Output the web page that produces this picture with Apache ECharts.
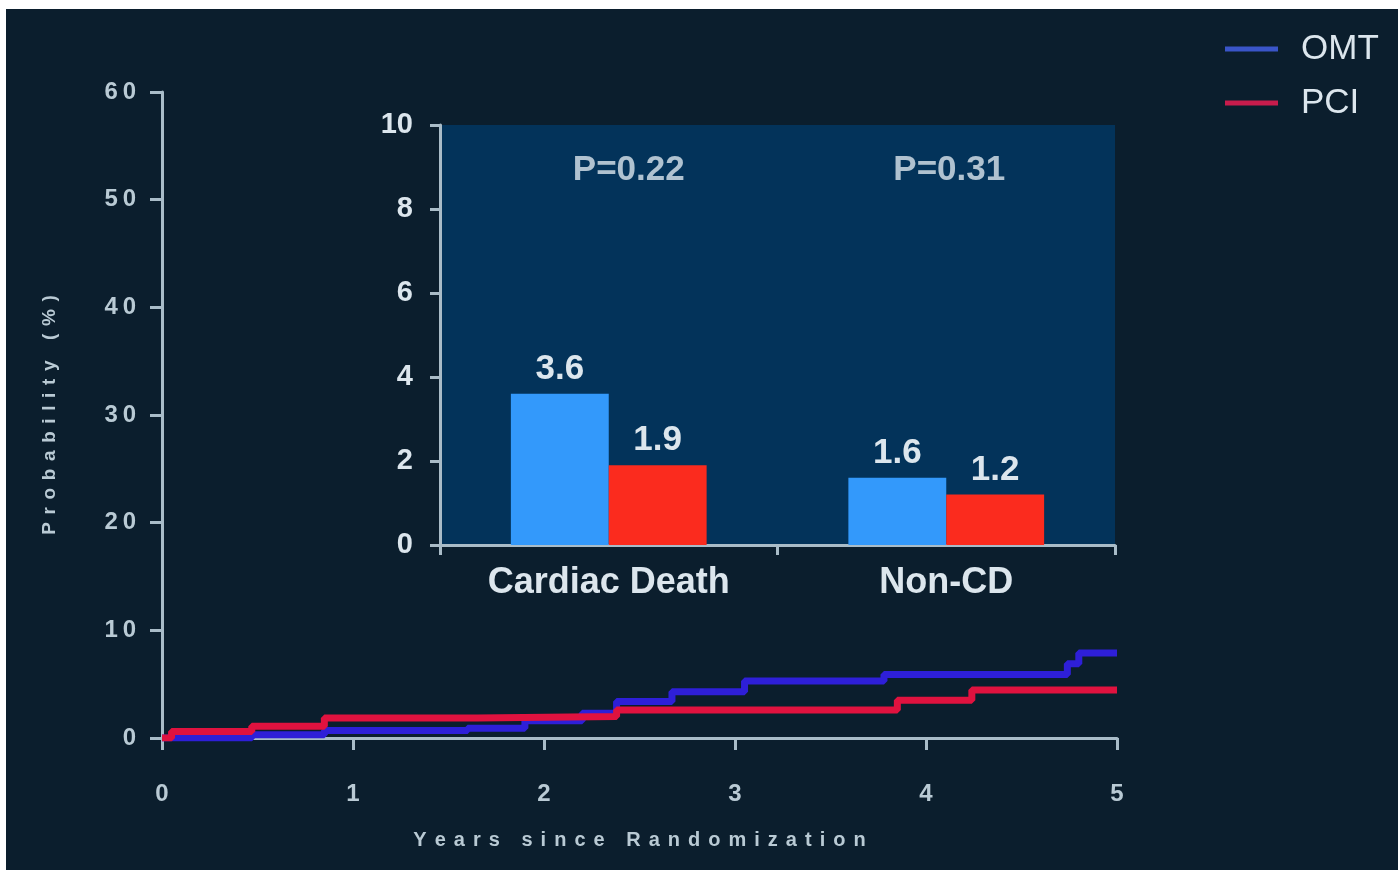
<!DOCTYPE html>
<html>
<head>
<meta charset="utf-8">
<script src="https://cdn.jsdelivr.net/npm/echarts@6/dist/echarts.min.js"></script>
<style>
html,body{margin:0;padding:0;background:#ffffff;width:1398px;height:870px;overflow:hidden;}
#c{position:absolute;left:6px;top:9px;width:1392px;height:861px;background:#0b1e2d;}
</style>
</head>
<body>
<div id="c"></div>
<script>
// Kaplan-Meier curves (years, cumulative probability %)
const omtTime = [0, 0.47, 0.85, 1.6, 1.9, 2.2, 2.38, 2.67, 3.05, 3.78, 4.74, 4.8, 5.0];
const omtProb = [0, 0.3, 0.7, 0.9, 1.6, 2.3, 3.4, 4.3, 5.3, 5.9, 6.9, 7.9, 7.9];
const pciTime = [0, 0.05, 0.47, 0.85, 1.65, 2.38, 3.85, 4.24, 5.0];
const pciProb = [0, 0.6, 1.1, 1.85, 2.0, 2.6, 3.5, 4.45, 4.45];

// inset bar chart
const insetCategories = ['Cardiac Death', 'Non-CD'];
const insetOMT = [3.6, 1.6];
const insetPCI = [1.9, 1.2];
const pValues = ['P=0.22', 'P=0.31'];
const pValueY = [9.0, 9.0];

const mainYTicks = [0, 10, 20, 30, 40, 50, 60];
const mainXTicks = [0, 1, 2, 3, 4, 5];
const seriesNames = ['OMT', 'PCI'];

const spaced = (s, sep) => String(s).split('').join(sep);
const axisCol = '#a9bcc8';
const labCol = '#b9cad4';
const txtCol = '#dce6ed';
const FF = 'Liberation Sans, Arial';

const chart = echarts.init(document.getElementById('c'), null, {renderer: 'canvas'});
chart.setOption({
  backgroundColor: '#0b1e2d',
  animation: false,
  legend: {
    data: [
      {name: seriesNames[0], itemStyle: {color: '#3a55c8'}},
      {name: seriesNames[1], itemStyle: {color: '#c81c4c'}}
    ],
    orient: 'vertical',
    left: 1214,
    top: 12,
    icon: 'rect',
    itemWidth: 53,
    itemHeight: 5,
    itemGap: 8,
    textStyle: {color: txtCol, fontSize: 35, fontFamily: FF, lineHeight: 38, padding: [8, 0, 0, 18]}
  },
  grid: [
    {left: 156, top: 83, right: 281, bottom: 132, containLabel: false},
    {left: 434, top: 116, right: 283, bottom: 325, containLabel: false, show: true, backgroundColor: '#03335a', borderWidth: 0, z: 5}
  ],
  xAxis: [
    {
      type: 'value', gridIndex: 0, min: 0, max: 5, interval: 1,
      name: spaced('Years since Randomization', '\u2009\u2009'),
      nameLocation: 'middle', nameGap: 92,
      nameTextStyle: {color: labCol, fontSize: 20, fontWeight: 'bold', fontFamily: FF},
      axisLine: {show: true, lineStyle: {color: axisCol, width: 3}},
      axisTick: {show: true, length: 12, lineStyle: {color: axisCol, width: 3}},
      axisLabel: {color: labCol, fontSize: 24, fontWeight: 'bold', margin: 44, fontFamily: FF},
      splitLine: {show: false}
    },
    {
      type: 'category', gridIndex: 1, data: insetCategories, z: 6,
      axisLine: {show: true, lineStyle: {color: axisCol, width: 3}},
      axisTick: {show: true, length: 10, lineStyle: {color: axisCol, width: 3}},
      axisLabel: {color: txtCol, fontSize: 36, fontWeight: 'bold', margin: 20, fontFamily: FF}
    }
  ],
  yAxis: [
    {
      type: 'value', gridIndex: 0, min: 0, max: 60, interval: 10,
      name: spaced('Probability (%)', '\u2009\u2009'),
      nameLocation: 'middle', nameGap: 103, nameRotate: 90,
      nameTextStyle: {color: labCol, fontSize: 19, fontWeight: 'bold', fontFamily: FF},
      axisLine: {show: true, lineStyle: {color: axisCol, width: 3}},
      axisTick: {show: true, length: 12, lineStyle: {color: axisCol, width: 3}},
      axisLabel: {color: labCol, fontSize: 24, fontWeight: 'bold', margin: 26,
        fontFamily: FF, formatter: v => spaced(v, '\u2009')},
      splitLine: {show: false}
    },
    {
      type: 'value', gridIndex: 1, min: 0, max: 10, interval: 2, z: 6,
      axisLine: {show: true, lineStyle: {color: axisCol, width: 3}},
      axisTick: {show: true, length: 10, lineStyle: {color: axisCol, width: 3}},
      axisLabel: {color: txtCol, fontSize: 29, fontWeight: 'bold', margin: 27, fontFamily: FF},
      splitLine: {show: false}
    }
  ],
  series: [
    {
      name: seriesNames[0], type: 'line', xAxisIndex: 0, yAxisIndex: 0, step: 'end',
      showSymbol: false, symbol: 'none',
      data: omtTime.map((t, i) => [t, omtProb[i]]),
      lineStyle: {color: '#2e1fd8', width: 7}, itemStyle: {color: '#2e1fd8'}, z: 2
    },
    {
      name: seriesNames[1], type: 'line', xAxisIndex: 0, yAxisIndex: 0, step: 'end',
      showSymbol: false, symbol: 'none',
      data: pciTime.map((t, i) => [t, pciProb[i]]),
      lineStyle: {color: '#e0123f', width: 7}, itemStyle: {color: '#e0123f'}, z: 3
    },
    {
      name: seriesNames[0], type: 'bar', xAxisIndex: 1, yAxisIndex: 1, data: insetOMT,
      barGap: '0%', barCategoryGap: '42%', itemStyle: {color: '#3399fb'}, z: 7,
      label: {show: true, position: 'top', distance: 7, color: txtCol, fontSize: 35, fontWeight: 'bold', fontFamily: FF}
    },
    {
      name: seriesNames[1], type: 'bar', xAxisIndex: 1, yAxisIndex: 1, data: insetPCI,
      barGap: '0%', barCategoryGap: '42%', itemStyle: {color: '#fb2b1e'}, z: 7,
      label: {show: true, position: 'top', distance: 7, color: txtCol, fontSize: 35, fontWeight: 'bold', fontFamily: FF}
    },
    {
      name: 'pvalue', type: 'scatter', xAxisIndex: 1, yAxisIndex: 1, symbolSize: 0, z: 8,
      data: insetCategories.map((c, i) => ({value: [c, pValueY[i]], label: {formatter: pValues[i], offset: [i === 0 ? 20 : 3, 3]}})),
      label: {show: true, position: 'inside', color: txtCol, fontSize: 35, fontWeight: 'bold', fontFamily: FF},
      silent: true
    }
  ]
});
</script>
</body>
</html>
